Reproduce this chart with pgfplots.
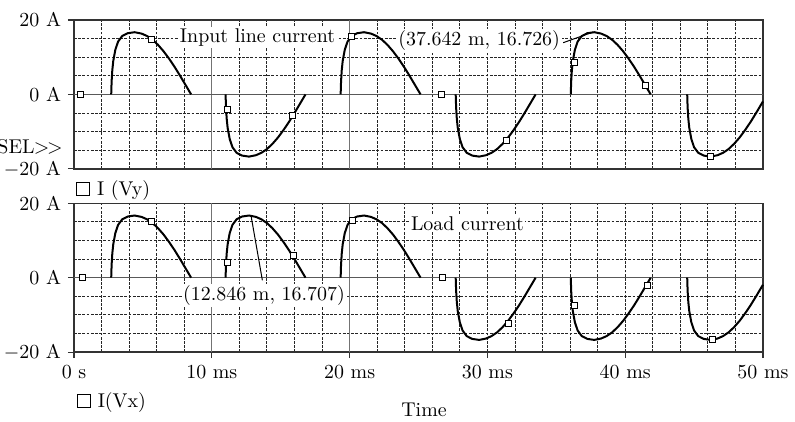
\documentclass[border=0pt]{standalone}
\usepackage{pgfplots}
\pgfplotsset{compat=1.18}
\newcommand{\sq}{{\setlength{\fboxsep}{0pt}\setlength{\fboxrule}{0.5bp}\fbox{\rule{0pt}{6bp}\rule{6bp}{0pt}}}}
\tikzset{lab/.style={fill=white, inner sep=0.8bp}}
\pgfplotsset{
  myax/.style={
    scale only axis, width=344.5bp, height=74.4bp,
    xmin=0, xmax=50, ymin=-20, ymax=20,
    xtick={0,10,...,50}, minor xtick={2,4,...,48},
    ytick={-20,0,20}, minor ytick={-15,-10,-5,5,10,15},
    yticklabels={$-$20 A, 0 A, 20 A},
    grid=both,
    major grid style={black!85, dash pattern=on 1.4bp off 0.7bp, line width=0.45bp},
    minor grid style={black!85, dash pattern=on 1.4bp off 0.7bp, line width=0.45bp},
    axis line style={black!80, line width=0.7bp},
    tick style={black!80, line width=0.6bp},
    tick align=outside,
    major tick length=3bp,
    minor tick length=0pt,
    xtick pos=bottom, ytick pos=left,
    clip=false,
    extra x ticks={10,20}, extra x tick labels={},
    extra x tick style={grid=major, major grid style={solid, black!55, line width=0.55bp}, major tick length=0pt},
    extra y ticks={0}, extra y tick labels={},
    extra y tick style={grid=major, major grid style={solid, black!65, line width=0.7bp}, major tick length=0pt},
    curve/.style={black, line width=1bp, no marks},
    mk/.style={only marks, mark=square*, mark size=1.5bp, mark options={fill=white, draw=black, line width=0.45bp, solid}},
  }
}
\begin{document}
\begin{tikzpicture}
\path[use as bounding box] (0,0) rectangle (397.5bp,-211bp);
% ---------- top: input line current ----------
\begin{axis}[myax, at={(37bp,-84.4bp)}, anchor=south west,
  xticklabels={}, xtick style={draw=none}]
\addplot[curve] coordinates {(2.7,0)(2.73,3.5)(2.78,6.5)(2.85,9)(3.0,12)(3.2,14.2)(3.5,15.7)(3.9,16.45)(4.4,16.72)(4.9,16.35)(5.3,15.7)(5.7,14.7)(6.1,13.3)(6.5,11.6)(6.9,9.6)(7.3,7.4)(7.7,5.0)(8.1,2.5)(8.5,0)};
\addplot[curve] coordinates {(11.0,0)(11.03,-3.5)(11.08,-6.5)(11.15,-9)(11.3,-12)(11.5,-14.2)(11.8,-15.7)(12.2,-16.45)(12.7,-16.72)(13.2,-16.35)(13.6,-15.7)(14.0,-14.7)(14.4,-13.3)(14.8,-11.6)(15.2,-9.6)(15.6,-7.4)(16.0,-5.0)(16.4,-2.5)(16.8,0)};
\addplot[curve] coordinates {(19.35,0)(19.38,3.5)(19.43,6.5)(19.5,9)(19.65,12)(19.85,14.2)(20.15,15.7)(20.55,16.45)(21.05,16.72)(21.55,16.35)(21.95,15.7)(22.35,14.7)(22.75,13.3)(23.15,11.6)(23.55,9.6)(23.95,7.4)(24.35,5.0)(24.75,2.5)(25.15,0)};
\addplot[curve] coordinates {(27.7,0)(27.73,-3.5)(27.78,-6.5)(27.85,-9)(28.0,-12)(28.2,-14.2)(28.5,-15.7)(28.9,-16.45)(29.4,-16.72)(29.9,-16.35)(30.3,-15.7)(30.7,-14.7)(31.1,-13.3)(31.5,-11.6)(31.9,-9.6)(32.3,-7.4)(32.7,-5.0)(33.1,-2.5)(33.5,0)};
\addplot[curve] coordinates {(36.05,0)(36.08,3.5)(36.13,6.5)(36.2,9)(36.35,12)(36.55,14.2)(36.85,15.7)(37.25,16.45)(37.75,16.72)(38.25,16.35)(38.65,15.7)(39.05,14.7)(39.45,13.3)(39.85,11.6)(40.25,9.6)(40.65,7.4)(41.05,5.0)(41.45,2.5)(41.85,0)};
\addplot[curve] coordinates {(44.5,0)(44.53,-3.5)(44.58,-6.5)(44.65,-9)(44.8,-12)(45.0,-14.2)(45.3,-15.7)(45.7,-16.45)(46.2,-16.72)(46.7,-16.35)(47.1,-15.7)(47.5,-14.7)(47.9,-13.3)(48.3,-11.6)(48.7,-9.6)(49.1,-7.4)(49.5,-5.0)(49.9,-2.5)(50,-1.9)};
\addplot[mk] coordinates {(0.5,0)(5.6,14.8)(11.12,-4)(15.87,-5.7)(20.15,15.5)(26.63,0)(31.35,-12.4)(36.3,8.5)(41.5,2.4)(46.2,-16.6)};
\draw[black, line width=0.5bp] (axis cs:35.5,13.9) -- (axis cs:37.642,16.726);
\node[lab] at (axis cs:13.32,15.4) {Input line current};
\node[lab] at (axis cs:29.4,14.6) {(37.642 m, 16.726)};
\node[anchor=east, inner sep=0pt] at (axis cs:-0.8,-14.05) {SEL\kern-0.3bp>\kern-1.2bp>};
\node[anchor=west, inner sep=0pt] at (axis cs:0.15,-25.8) {\sq\ I (Vy)};
\end{axis}
% ---------- bottom: load current ----------
\begin{axis}[myax, at={(37bp,-176.05bp)}, anchor=south west,
  xticklabels={0 s, 10 ms, 20 ms, 30 ms, 40 ms, 50 ms}]
\addplot[curve] coordinates {(2.7,0)(2.73,3.5)(2.78,6.5)(2.85,9)(3.0,12)(3.2,14.2)(3.5,15.7)(3.9,16.45)(4.4,16.72)(4.9,16.35)(5.3,15.7)(5.7,14.7)(6.1,13.3)(6.5,11.6)(6.9,9.6)(7.3,7.4)(7.7,5.0)(8.1,2.5)(8.5,0)};
\addplot[curve] coordinates {(11.0,0)(11.03,3.5)(11.08,6.5)(11.15,9)(11.3,12)(11.5,14.2)(11.8,15.7)(12.2,16.45)(12.7,16.72)(13.2,16.35)(13.6,15.7)(14.0,14.7)(14.4,13.3)(14.8,11.6)(15.2,9.6)(15.6,7.4)(16.0,5.0)(16.4,2.5)(16.8,0)};
\addplot[curve] coordinates {(19.35,0)(19.38,3.5)(19.43,6.5)(19.5,9)(19.65,12)(19.85,14.2)(20.15,15.7)(20.55,16.45)(21.05,16.72)(21.55,16.35)(21.95,15.7)(22.35,14.7)(22.75,13.3)(23.15,11.6)(23.55,9.6)(23.95,7.4)(24.35,5.0)(24.75,2.5)(25.15,0)};
\addplot[curve] coordinates {(27.7,0)(27.73,-3.5)(27.78,-6.5)(27.85,-9)(28.0,-12)(28.2,-14.2)(28.5,-15.7)(28.9,-16.45)(29.4,-16.72)(29.9,-16.35)(30.3,-15.7)(30.7,-14.7)(31.1,-13.3)(31.5,-11.6)(31.9,-9.6)(32.3,-7.4)(32.7,-5.0)(33.1,-2.5)(33.5,0)};
\addplot[curve] coordinates {(36.05,0)(36.08,-3.5)(36.13,-6.5)(36.2,-9)(36.35,-12)(36.55,-14.2)(36.85,-15.7)(37.25,-16.45)(37.75,-16.72)(38.25,-16.35)(38.65,-15.7)(39.05,-14.7)(39.45,-13.3)(39.85,-11.6)(40.25,-9.6)(40.65,-7.4)(41.05,-5.0)(41.45,-2.5)(41.85,0)};
\addplot[curve] coordinates {(44.5,0)(44.53,-3.5)(44.58,-6.5)(44.65,-9)(44.8,-12)(45.0,-14.2)(45.3,-15.7)(45.7,-16.45)(46.2,-16.72)(46.7,-16.35)(47.1,-15.7)(47.5,-14.7)(47.9,-13.3)(48.3,-11.6)(48.7,-9.6)(49.1,-7.4)(49.5,-5.0)(49.9,-2.5)(50,-1.9)};
\addplot[mk] coordinates {(0.58,0)(5.64,15.0)(11.15,4.1)(15.9,5.9)(20.2,15.5)(26.75,0)(31.5,-12.3)(36.35,-7.5)(41.6,-2.1)(46.35,-16.6)};
\draw[black, line width=0.5bp] (axis cs:12.846,16.707) -- (axis cs:13.67,-0.7);
\node[lab] at (axis cs:28.55,14.5) {Load current};
\node[lab] at (axis cs:13.79,-4.7) {(12.846 m, 16.707)};
\node[anchor=west, inner sep=0pt] at (axis cs:0.2,-33.5) {\sq\ I(Vx)};
\node[inner sep=0pt] at (axis cs:25.4,-35.4) {Time};
\end{axis}
\end{tikzpicture}
\end{document}
